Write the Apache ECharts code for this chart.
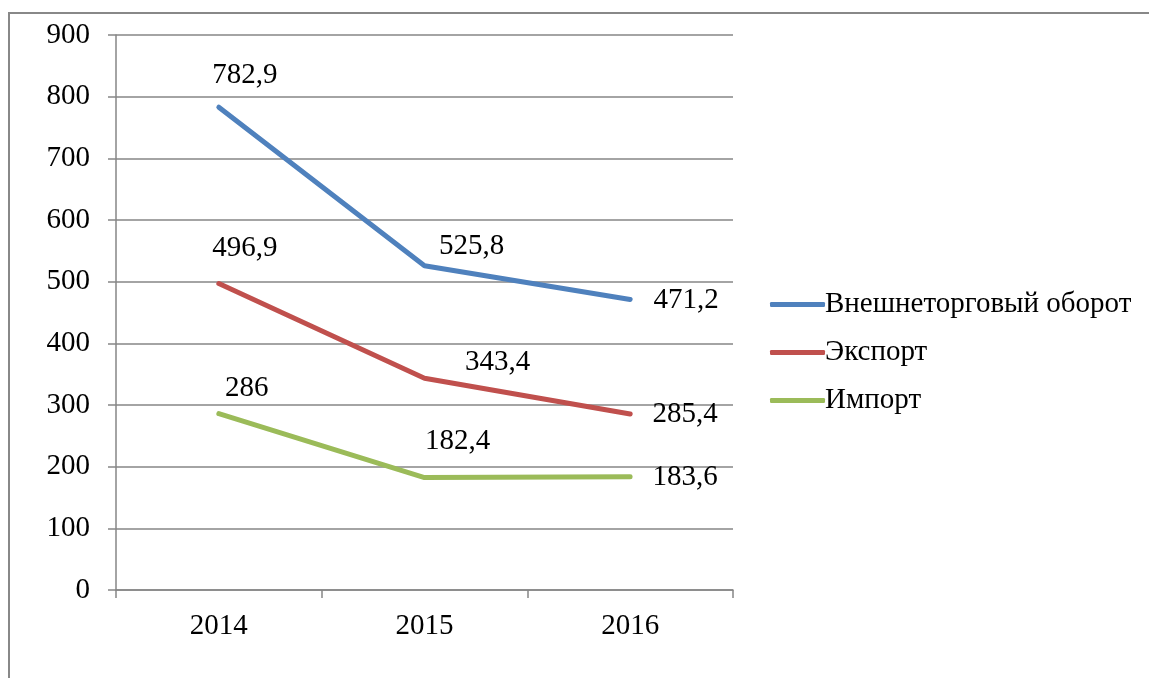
<!DOCTYPE html>
<html>
<head>
<meta charset="utf-8">
<script src="https://cdn.jsdelivr.net/npm/echarts@6/dist/echarts.min.js"></script>
<style>
  html, body { margin: 0; padding: 0; background: #fff; }
  #main { width: 1149px; height: 678px; }
</style>
</head>
<body>
<div id="main"></div>
<script>
  const years = ['2014', '2015', '2016'];
  const seriesNames = ['Внешнеторговый оборот', 'Экспорт', 'Импорт'];
  const turnover = [782.9, 525.8, 471.2];
  const exportData = [496.9, 343.4, 285.4];
  const importData = [286, 182.4, 183.6];
  const colors = ['#4F81BD', '#C0504D', '#9BBB59'];

  // label offsets from point (px), per series / per point
  const labelOffsets = [
    [[26, -32], [47, -19], [56, 1]],
    [[26, -35], [73, -16], [55, 0]],
    [[28, -25], [33, -36], [55, 1]]
  ];

  const font = '"Liberation Serif", "Times New Roman", serif';
  const fs = 29;
  const allData = [turnover, exportData, importData];

  const series = allData.map(function (arr, si) {
    return {
      name: seriesNames[si],
      type: 'line',
      symbol: 'circle',
      symbolSize: 1,
      lineStyle: { width: 5, color: colors[si], cap: 'round' },
      itemStyle: { color: colors[si] },
      data: arr.map(function (v, i) {
        return {
          value: v,
          label: {
            show: true,
            position: 'inside',
            offset: labelOffsets[si][i],
            formatter: function (p) { return String(p.value).replace('.', ','); },
            color: '#000',
            fontFamily: font,
            fontSize: fs
          }
        };
      }),
      emphasis: { disabled: true }
    };
  });

  const chart = echarts.init(document.getElementById('main'));
  chart.setOption({
    animation: false,
    color: colors,
    graphic: [{
      type: 'polyline',
      shape: { points: [[9, 700], [9, 13], [1200, 13]] },
      style: { fill: 'none', stroke: '#888', lineWidth: 2 },
      silent: true
    }],
    grid: { left: 116, top: 35, right: 416, bottom: 88 },
    legend: {
      orient: 'vertical',
      left: 765,
      top: 285,
      icon: 'roundRect',
      itemWidth: 55,
      itemHeight: 5,
      itemGap: 19,
      textStyle: { fontFamily: font, fontSize: fs, color: '#000', padding: [0, 0, 0, -5] },
      data: seriesNames
    },
    xAxis: {
      type: 'category',
      data: years,
      boundaryGap: true,
      axisLine: { lineStyle: { color: '#868686', width: 1.5 } },
      axisTick: { show: true, length: 8, lineStyle: { color: '#868686', width: 1.5 } },
      axisLabel: { margin: 22, color: '#000', fontFamily: font, fontSize: fs }
    },
    yAxis: {
      type: 'value',
      min: 0,
      max: 900,
      interval: 100,
      axisLine: { show: true, lineStyle: { color: '#868686', width: 1.5 } },
      axisTick: { show: true, length: 8, lineStyle: { color: '#868686', width: 1.5 } },
      axisLabel: { margin: 26, color: '#000', fontFamily: font, fontSize: fs },
      splitLine: { show: true, lineStyle: { color: '#868686', width: 1.5 } }
    },
    series: series
  });
</script>
</body>
</html>
